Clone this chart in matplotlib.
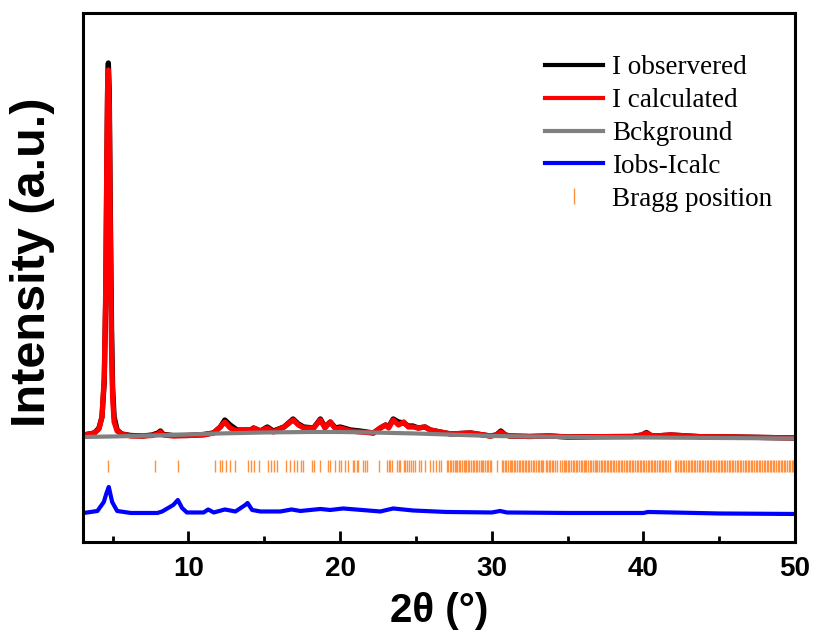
import matplotlib
matplotlib.use("Agg")
import matplotlib.pyplot as plt
from matplotlib.lines import Line2D

# 2theta grid shared by observed and calculated profiles
two_theta = [3.1, 3.8, 4.1, 4.3, 4.45, 4.55, 4.62, 4.68, 4.72, 4.78, 4.85, 4.93, 5.0, 5.1,
             5.3, 5.6, 6.2, 7.0, 7.6, 8.0, 8.15, 8.35, 9.0, 10.0, 11.0, 11.65, 12.1, 12.4,
             12.75, 13.2, 13.6, 14.1, 14.3, 14.75, 15.2, 15.6, 16.3, 16.9, 17.25, 17.6, 18.25,
             18.7, 19.0, 19.35, 19.7, 20.0, 20.7, 21.3, 22.2, 22.65, 23.0, 23.2, 23.5, 23.85,
             24.2, 24.5, 24.8, 25.15, 25.6, 25.95, 26.6, 27.3, 28.6, 29.9, 30.3, 30.6, 30.9,
             31.2, 32.5, 33.8, 35.0, 37.0, 39.3, 39.9, 40.2, 40.5, 40.8, 41.8, 43.75, 46.0,
             48.0, 50.0]
i_obs = [2, 4, 9, 20, 55, 140, 270, 360, 374, 345, 225, 110, 50, 20,
         7, 3, 1.5, 1, 2, 4, 6, 2.5, 1.5, 1.5, 2.5, 4, 10, 17,
         12, 7, 7, 7, 9, 6, 10, 6, 10, 18, 13, 10, 9,
         18, 10, 15, 9, 10, 7, 6, 4, 9, 12, 10, 18, 15,
         14, 11, 11, 9, 10, 7, 5, 3, 4, 1, 2, 6, 2,
         1, 0.5, 1, 0, 0.3, 0.5, 2, 4.5, 1.5, 1, 2, 0.3, 0,
         -0.5, -1]
i_calc = [2, 4, 8, 20, 60, 150, 280, 360, 367, 330, 200, 90, 40, 15,
          6, 3, 1, 1, 1.5, 3, 5, 2, 1, 1.5, 2, 4, 10, 15,
          9, 6, 7, 7, 9, 6, 9, 5, 10, 17, 12, 9, 9,
          17, 9, 15, 8, 9, 6, 5, 4, 9, 12, 9, 17, 12,
          15, 10, 10, 9, 10, 7, 5, 3, 4, 1, 2, 5, 2,
          1, 0.5, 1, 0, 0.3, 0.5, 2, 4, 1.5, 1, 2, 0.3, 0,
          -0.5, -1]

bkg_x = [3, 5, 8, 10, 12, 15, 18, 20, 22, 25, 28, 30, 35, 40, 50]
bkg_y = [0, 0.5, 1.5, 2.5, 3.5, 4.5, 5, 5, 4.5, 3.5, 2, 1, 0, -0.5, -1.5]

diff_x = [3.1, 4.0, 4.42, 4.6, 4.75, 4.97, 5.3, 6.2, 7.95, 8.27, 9.0, 9.3, 9.58, 9.9,
          11.0, 11.3, 11.67, 12.4, 13.1, 13.75, 13.9, 14.2, 14.75, 16.06, 16.8, 17.38,
          18.7, 19.35, 20.2, 22.65, 23.5, 24.8, 27.0, 30.0, 30.55, 31.0, 35.0, 40.0,
          40.3, 45.0, 50.0]
diff_y = [-76, -74, -65, -56, -50, -65, -74, -76, -76, -74.5, -68, -63, -71, -75.5,
          -75.5, -72.5, -75.5, -72.5, -74.5, -68, -66, -73, -74.5, -74.5, -72.5, -74,
          -72, -73, -71.5, -74.5, -71.5, -73.5, -75, -75.5, -74, -75.5, -76, -76,
          -75, -76.5, -77]

bragg = [4.68, 7.78, 9.32, 11.73, 12.06, 12.21, 12.48, 12.71, 13.05, 13.93, 14.15, 14.34,
         14.63, 15.25, 15.47, 15.64, 15.84, 16.46, 16.68, 16.94, 17.18, 17.45, 17.55, 18.15,
         18.3, 18.65, 19.18, 19.36, 19.64, 19.9, 20.06, 20.35, 20.5, 20.83, 20.94, 21.12,
         21.18, 21.51, 21.62, 21.78, 22.54, 23.09, 23.2, 23.31, 23.42, 23.75, 23.86, 23.97,
         24.19, 24.3, 24.41, 24.52, 24.67, 24.8, 24.96, 25.18, 25.35, 25.57, 25.95, 26.12,
         26.32, 26.49, 26.67,
         27.04, 27.12, 27.25, 27.31, 27.42, 27.55, 27.63, 27.71, 27.84, 27.93, 28.02, 28.15,
         28.21, 28.33, 28.46, 28.52, 28.64, 28.75, 28.83, 28.97, 29.05, 29.14, 29.27, 29.36,
         29.44, 29.58, 29.66, 29.78, 29.87, 29.98, 30.34,
         30.67, 30.75, 30.88, 30.96, 31.08, 31.17, 31.29, 31.35, 31.48, 31.56, 31.69, 31.78,
         31.86, 31.99, 32.07, 32.18, 32.26, 32.39, 32.47, 32.58, 32.71, 32.79, 32.91, 33.02,
         33.11, 33.24, 33.33, 33.41, 33.55, 33.63, 33.76, 33.84, 33.95, 34.06, 34.17, 34.28,
         34.52, 34.61, 34.73, 34.82, 34.9, 35.03, 35.12, 35.21, 35.34, 35.42, 35.53, 35.65,
         35.73, 35.86, 35.94, 36.05, 36.17, 36.24, 36.36, 36.45, 36.57, 36.66, 36.78, 36.87,
         36.96, 37.08, 37.17, 37.29, 37.37, 37.48, 37.59, 37.68, 37.8, 37.89, 38.01, 38.09,
         38.2, 38.32, 38.41, 38.52, 38.61, 38.73, 38.82, 38.93, 39.04, 39.13, 39.25, 39.34,
         39.45, 39.56, 39.64, 39.77, 39.86, 39.97, 40.06, 40.18, 40.27, 40.38, 40.49, 40.58,
         40.7, 40.79, 40.91, 41.0, 41.11, 41.22, 41.31, 41.43, 41.52, 41.64, 41.74,
         42.09, 42.18, 42.3, 42.39, 42.5, 42.61, 42.7, 42.82, 42.91, 43.03, 43.12, 43.23,
         43.34, 43.43, 43.55, 43.64, 43.75, 43.86, 43.95, 44.07, 44.16, 44.27, 44.38, 44.47,
         44.59, 44.68, 44.8, 44.89, 45.0, 45.11, 45.2, 45.32, 45.41, 45.52, 45.63, 45.72,
         45.84, 45.93, 46.04, 46.15, 46.24, 46.36, 46.45, 46.56, 46.67, 46.76, 46.88, 46.97,
         47.08, 47.19, 47.28, 47.4, 47.49, 47.6, 47.71, 47.8, 47.92, 48.01, 48.12, 48.23,
         48.32, 48.44, 48.53, 48.64, 48.75, 48.84, 48.96, 49.05, 49.16, 49.27, 49.36, 49.48,
         49.57, 49.68, 49.79, 49.88, 49.97]

orange = '#FF9040'
narrow = ['Liberation Sans Narrow', 'Liberation Sans', 'DejaVu Sans']

fig = plt.figure(figsize=(8.18, 6.33), dpi=100)
ax = fig.add_axes([0.1015, 0.1438, 0.8705, 0.8357])

ax.plot(two_theta, i_obs, color='black', lw=3.8)
ax.plot(two_theta, i_calc, color='red', lw=3.8)
ax.plot(bkg_x, bkg_y, color='#808080', lw=3)
ax.plot(diff_x, diff_y, color='blue', lw=3)
ax.vlines(bragg, -35, -23, color=orange, lw=1.0)

ax.set_xlim(3.05, 50)
ax.set_ylim(-105, 424)

for sp in ax.spines.values():
    sp.set_linewidth(2.2)

ax.set_xticks([10, 20, 30, 40, 50])
ax.set_xticks([5, 15, 25, 35, 45], minor=True)
ax.set_yticks([])
ax.tick_params(axis='x', which='major', direction='in', length=8, width=2, pad=10)
ax.tick_params(axis='x', which='minor', direction='in', length=4, width=2)
for lab in ax.get_xticklabels():
    lab.set_family(narrow)
    lab.set_fontweight('bold')
    lab.set_fontsize(20)

ax.set_xlabel('2θ (°)', fontsize=29, fontweight='bold', family=narrow, labelpad=7)
ax.set_ylabel('Intensity (a.u.)', fontsize=35, fontweight='bold',
              family=['Liberation Sans', 'DejaVu Sans'])
ax.yaxis.set_label_coords(-0.039, 0.529)

handles = [Line2D([], [], color='black', lw=3),
           Line2D([], [], color='red', lw=3),
           Line2D([], [], color='#808080', lw=3),
           Line2D([], [], color='blue', lw=3),
           Line2D([], [], color=orange, lw=0, marker='|', markersize=12, markeredgewidth=1)]
labels = ['I observered', 'I calculated', 'Bckground', 'Iobs-Icalc', 'Bragg position']
ax.legend(handles, labels, loc='upper left', bbox_to_anchor=(0.649, 0.92), frameon=False,
          prop={'family': ['Liberation Serif', 'DejaVu Serif'], 'size': 19.5},
          handlelength=2.15, handletextpad=0.33, labelspacing=0.29, borderpad=0,
          borderaxespad=0)

plt.savefig('out.png', dpi=100)
